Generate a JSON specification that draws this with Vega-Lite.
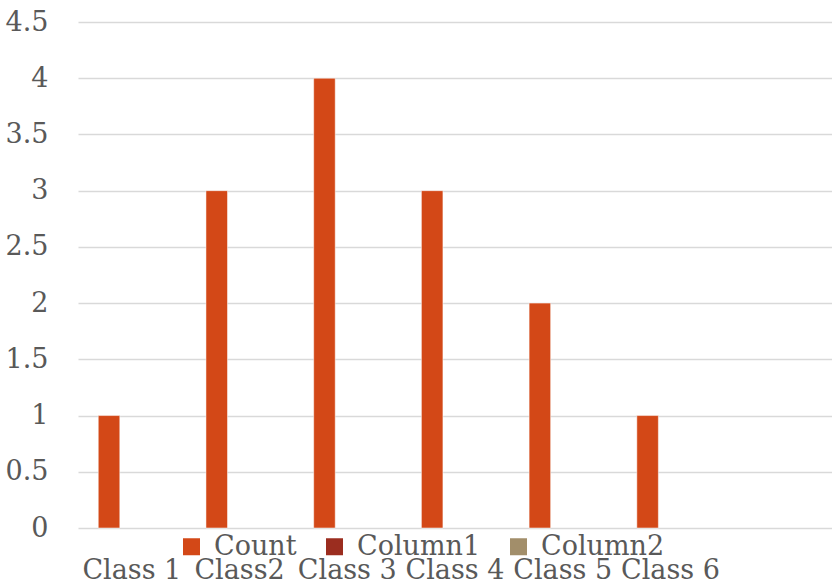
{
  "$schema": "https://vega.github.io/schema/vega-lite/v6.json",
  "width": 754,
  "height": 506,
  "autosize": "none",
  "padding": {"left": 78, "top": 22, "right": 0, "bottom": 55},
  "background": "white",
  "config": {
    "view": {"stroke": null},
    "font": "DejaVu Serif"
  },
  "data": {
    "values": [
      {"category": "Class 1", "series": "Count", "value": 1},
      {"category": "Class2", "series": "Count", "value": 3},
      {"category": "Class 3", "series": "Count", "value": 4},
      {"category": "Class 4", "series": "Count", "value": 3},
      {"category": "Class 5", "series": "Count", "value": 2},
      {"category": "Class 6", "series": "Count", "value": 1}
    ]
  },
  "mark": {"type": "bar", "stroke": "white", "strokeWidth": 0.5},
  "encoding": {
    "x": {
      "field": "category",
      "type": "nominal",
      "sort": null,
      "scale": {"domain": ["Class 1", "Class2", "Class 3", "Class 4", "Class 5", "Class 6", " "], "paddingInner": 0, "paddingOuter": 0},
      "axis": {
        "title": null,
        "labelAngle": 0,
        "domain": false,
        "ticks": false,
        "tickSize": 0,
        "labelPadding": 50,
        "labelBaseline": "alphabetic",
        "labelFont": "DejaVu Serif",
        "labelFontSize": 27,
        "labelColor": "#595959",
        "labelOverlap": false,
        "labelLimit": 0
      }
    },
    "xOffset": {
      "field": "series",
      "type": "nominal",
      "scale": {"domain": ["Count", "Column1", "Column2"], "paddingInner": 0, "paddingOuter": 1.45, "align": 0.47}
    },
    "y": {
      "field": "value",
      "type": "quantitative",
      "scale": {"domain": [0, 4.5], "nice": false},
      "axis": {
        "title": null,
        "values": [0, 0.5, 1, 1.5, 2, 2.5, 3, 3.5, 4, 4.5],
        "format": "~g",
        "domain": false,
        "ticks": false,
        "tickSize": 0,
        "labelPadding": 30,
        "labelFont": "DejaVu Serif",
        "labelFontSize": 27,
        "labelColor": "#595959",
        "gridColor": "#d9d9d9",
        "gridWidth": 1.5
      }
    },
    "color": {
      "field": "series",
      "type": "nominal",
      "scale": {"domain": ["Count", "Column1", "Column2"], "range": ["#D34817", "#9B2D1F", "#A28E6A"]},
      "legend": {
        "title": null,
        "orient": "none",
        "direction": "horizontal",
        "legendX": 100,
        "legendY": 511,
        "symbolType": "square",
        "symbolSize": 289,
        "symbolStrokeWidth": 0,
        "labelFont": "DejaVu Serif",
        "labelFontSize": 27,
        "labelColor": "#595959",
        "labelOffset": 9,
        "columnPadding": 24,
        "labelLimit": 0
      }
    }
  }
}
